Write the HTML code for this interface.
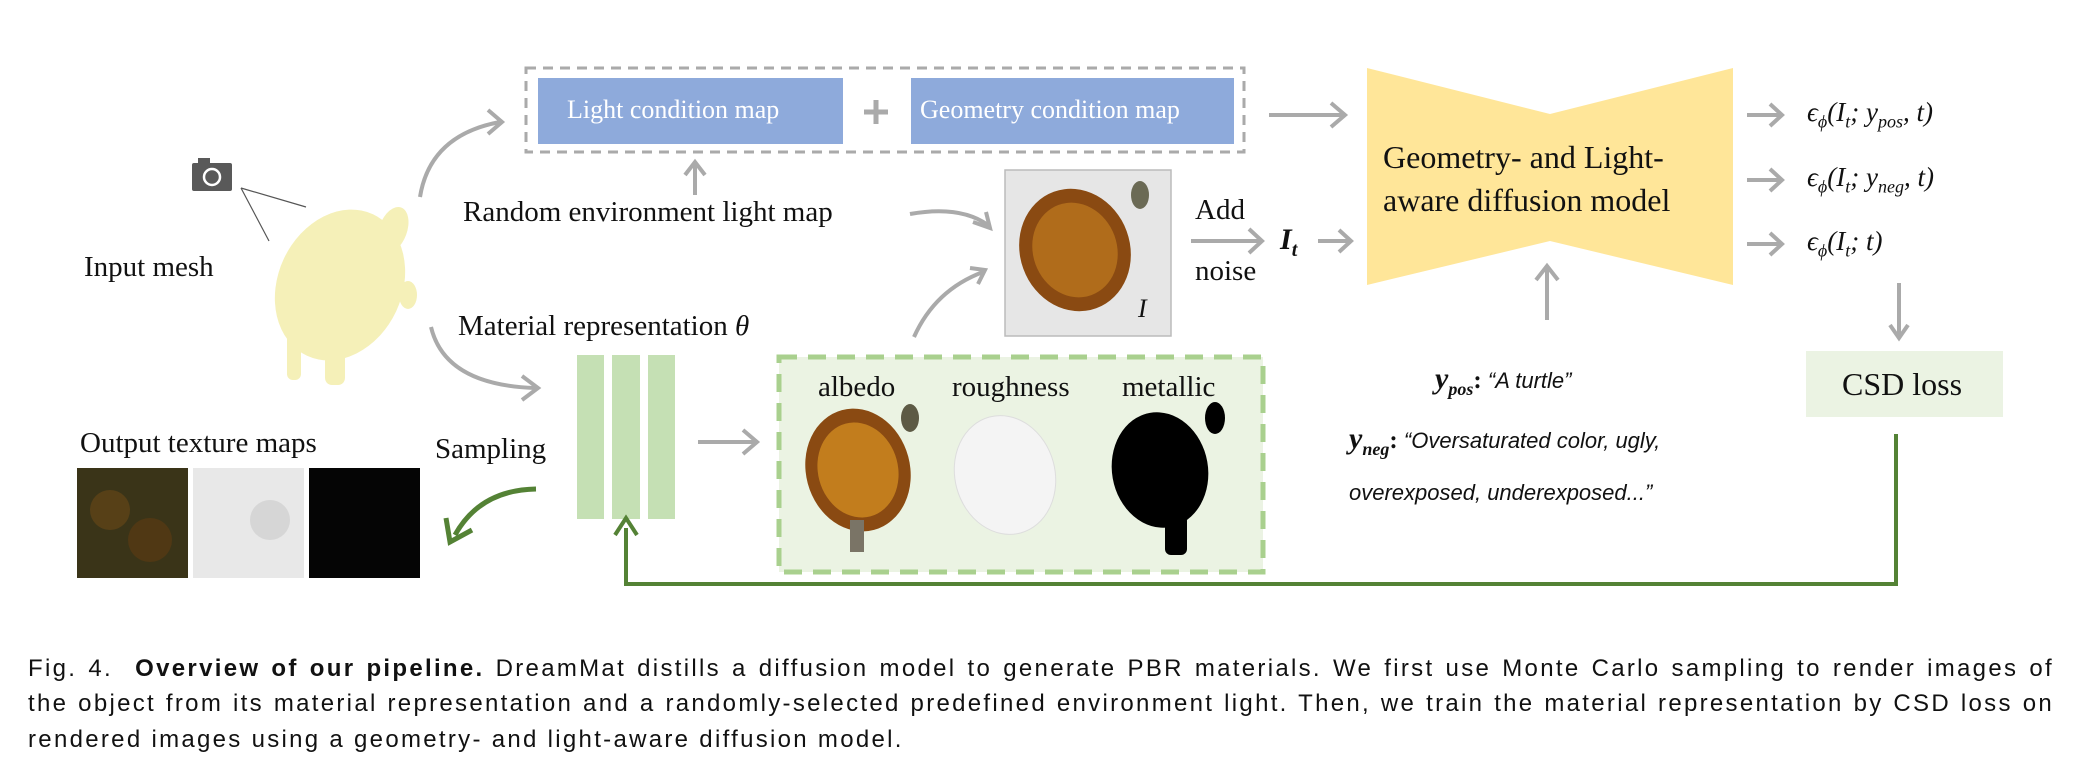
<!DOCTYPE html>
<html><head><meta charset="utf-8"><style>
body{margin:0;background:#fff;}
#c{position:relative;width:2091px;height:765px;overflow:hidden;font-family:"Liberation Serif",serif;color:#111;}
.t{position:absolute;white-space:nowrap;line-height:1;}
.cap{position:absolute;left:28px;width:2026px;font-family:"Liberation Sans",sans-serif;font-size:24px;text-align:justify;text-align-last:justify;white-space:nowrap;letter-spacing:2.3px;}
.i{font-style:italic;}
</style></head><body><div id="c">
<svg width="2091" height="765" style="position:absolute;left:0;top:0">
<rect x="526" y="68" width="718" height="84" fill="none" stroke="#aaa" stroke-width="3" stroke-dasharray="10,7"/>
<rect x="538" y="78" width="305" height="66" fill="#8eaadb"/>
<rect x="911" y="78" width="323" height="66" fill="#8eaadb"/>
<path d="M876,100 v24 M864,112 h24" stroke="#aaa" stroke-width="5"/>
<polygon points="1367,68 1550,114 1733,68 1733,285 1550,241 1367,285" fill="#ffe699"/>
<g stroke="#aaa" stroke-width="4" fill="none">
<path d="M420,197 Q430,135 500,122"/><path d="M488,110 L502,122 L488,134"/>
<path d="M431,327 Q445,385 535,388"/><path d="M522,376 L538,388 L522,400"/>
<path d="M695,195 V165"/><path d="M685,175 L695,162 L705,175"/>
<path d="M910,214 Q960,205 988,225"/><path d="M973,222 L990,228 L986,212"/>
<path d="M914,337 Q935,290 983,272"/><path d="M970,268 L985,270 L978,284"/>
<path d="M698,442 H755"/><path d="M743,430 L757,442 L743,454"/>
<path d="M1269,115 H1343"/><path d="M1331,103 L1345,115 L1331,127"/>
<path d="M1191,241 H1260"/><path d="M1249,229 L1262,241 L1249,253"/>
<path d="M1318,241 H1350"/><path d="M1339,230 L1351,241 L1339,252"/>
<path d="M1547,320 V268"/><path d="M1536,280 L1547,266 L1558,280"/>
<path d="M1747,115 H1780 M1747,180 H1780 M1747,244 H1780"/>
<path d="M1770,104 L1782,115 L1770,126 M1770,169 L1782,180 L1770,191 M1770,233 L1782,244 L1770,255"/>
<path d="M1899,283 V336"/><path d="M1890,325 L1899,338 L1908,325"/>
</g>
<rect x="192" y="163" width="40" height="28" rx="2" fill="#595959"/><rect x="198" y="158" width="12" height="6" fill="#595959"/>
<circle cx="212" cy="177" r="8" fill="none" stroke="#fff" stroke-width="2.5"/>
<path d="M241,188 L306,207 M241,188 L269,241" stroke="#555" stroke-width="1.2"/>
<g fill="#f5f0b8">
<ellipse cx="340" cy="285" rx="62" ry="78" transform="rotate(25 340 285)"/>
<ellipse cx="393" cy="230" rx="14" ry="24" transform="rotate(20 393 230)"/>
<rect x="287" y="330" width="14" height="50" rx="6"/><rect x="325" y="340" width="20" height="45" rx="7"/>
<ellipse cx="408" cy="295" rx="9" ry="14"/>
</g>
<rect x="577" y="355" width="27" height="164" fill="#c5e0b4"/>
<rect x="612" y="355" width="28" height="164" fill="#c5e0b4"/>
<rect x="648" y="355" width="27" height="164" fill="#c5e0b4"/>
<rect x="779" y="357" width="484" height="215" fill="#ebf3e3" stroke="#a9d08e" stroke-width="5" stroke-dasharray="18,11"/>
<rect x="1005" y="170" width="166" height="166" fill="#e6e6e6" stroke="#bbb" stroke-width="1.5"/>
<ellipse cx="1075" cy="250" rx="55" ry="62" fill="#8a4a12" transform="rotate(-20 1075 250)"/>
<ellipse cx="1075" cy="250" rx="42" ry="48" fill="#c07a20" transform="rotate(-20 1075 250)" opacity=".7"/>
<ellipse cx="1140" cy="195" rx="9" ry="14" fill="#6b6a55"/>
<ellipse cx="858" cy="470" rx="52" ry="62" fill="#8a4a12" transform="rotate(-15 858 470)"/>
<ellipse cx="858" cy="470" rx="40" ry="48" fill="#d08a20" transform="rotate(-15 858 470)" opacity=".8"/>
<ellipse cx="910" cy="418" rx="9" ry="14" fill="#5d5a45"/>
<rect x="850" y="520" width="14" height="32" fill="#7a7466"/>
<ellipse cx="1005" cy="475" rx="50" ry="60" fill="#f4f4f4" stroke="#ddd" transform="rotate(-15 1005 475)"/>
<ellipse cx="1160" cy="470" rx="48" ry="58" fill="#000" transform="rotate(-10 1160 470)"/>
<ellipse cx="1215" cy="418" rx="10" ry="16" fill="#000"/>
<rect x="1165" y="515" width="22" height="40" rx="6" fill="#000"/>
<rect x="1806" y="351" width="197" height="66" fill="#ebf3e3"/>
<path d="M1896,434 V584 H626 V528" fill="none" stroke="#548235" stroke-width="4"/>
<path d="M615,535 L626,518 L637,535" fill="none" stroke="#548235" stroke-width="4"/>
<path d="M536,489 Q480,490 455,535" fill="none" stroke="#548235" stroke-width="5"/>
<path d="M446,518 L450,542 L472,530" fill="none" stroke="#548235" stroke-width="5"/>
<rect x="77" y="468" width="111" height="110" fill="#3a3418"/>
<circle cx="110" cy="510" r="20" fill="#6a4a18" opacity=".6"/><circle cx="150" cy="540" r="22" fill="#5a3a12" opacity=".7"/>
<rect x="193" y="468" width="111" height="110" fill="#e8e8e8"/>
<circle cx="270" cy="520" r="20" fill="#c9c9c9" opacity=".6"/>
<rect x="309" y="468" width="111" height="110" fill="#050505"/>
</svg>
<div class="t" style="left:567px;top:97px;font-size:26px;color:#fff;">Light condition map</div>
<div class="t" style="left:920px;top:97px;font-size:26px;color:#fff;">Geometry condition map</div>
<div class="t" style="left:463px;top:198px;font-size:29px;">Random environment light map</div>
<div class="t" style="left:84px;top:253px;font-size:29px;">Input mesh</div>
<div class="t" style="left:458px;top:312px;font-size:29px;">Material representation <span class="i">θ</span></div>
<div class="t" style="left:80px;top:429px;font-size:29px;">Output texture maps</div>
<div class="t" style="left:435px;top:435px;font-size:29px;">Sampling</div>
<div class="t" style="left:818px;top:373px;font-size:29px;">albedo</div>
<div class="t" style="left:952px;top:373px;font-size:29px;">roughness</div>
<div class="t" style="left:1122px;top:373px;font-size:29px;">metallic</div>
<div class="t i" style="left:1138px;top:296px;font-size:26px;">I</div>
<div class="t" style="left:1195px;top:196px;font-size:29px;">Add</div>
<div class="t" style="left:1195px;top:257px;font-size:29px;">noise</div>
<div class="t i" style="left:1280px;top:225px;font-size:30px;font-weight:bold;">I<sub style="font-size:20px">t</sub></div>
<div class="t" style="left:1383px;top:141px;font-size:32px;">Geometry- and Light-</div>
<div class="t" style="left:1383px;top:184px;font-size:32px;">aware diffusion model</div>
<div class="t i" style="left:1807px;top:99px;font-size:27px;">ϵ<sub style="font-size:18px">ϕ</sub>(I<sub style="font-size:18px">t</sub>; y<sub style="font-size:18px">pos</sub>, t)</div>
<div class="t i" style="left:1807px;top:164px;font-size:27px;">ϵ<sub style="font-size:18px">ϕ</sub>(I<sub style="font-size:18px">t</sub>; y<sub style="font-size:18px">neg</sub>, t)</div>
<div class="t i" style="left:1807px;top:228px;font-size:27px;">ϵ<sub style="font-size:18px">ϕ</sub>(I<sub style="font-size:18px">t</sub>; t)</div>
<div class="t" style="left:1842px;top:368px;font-size:32px;">CSD loss</div>
<div class="t" style="left:1435px;top:364px;font-size:25px;"><b class="i" style="font-size:30px">y<sub style="font-size:18px">pos</sub></b><b>:</b> <span class="i" style="font-family:'Liberation Sans',sans-serif;font-size:22px">“A turtle”</span></div>
<div class="t" style="left:1349px;top:424px;font-size:25px;"><b class="i" style="font-size:30px">y<sub style="font-size:18px">neg</sub></b><b>:</b> <span class="i" style="font-family:'Liberation Sans',sans-serif;font-size:22px">“Oversaturated color, ugly,</span></div>
<div class="t i" style="left:1349px;top:482px;font-size:22px;font-family:'Liberation Sans',sans-serif;">overexposed, underexposed...”</div>
<div class="cap" style="top:655px;">Fig. 4.&nbsp; <b>Overview of our pipeline.</b> DreamMat distills a diffusion model to generate PBR materials. We first use Monte Carlo sampling to render images of</div>
<div class="cap" style="top:690px;">the object from its material representation and a randomly-selected predefined environment light. Then, we train the material representation by CSD loss on</div>
<div class="cap" style="top:726px;text-align-last:left;">rendered images using a geometry- and light-aware diffusion model.</div>
</div></body></html>
